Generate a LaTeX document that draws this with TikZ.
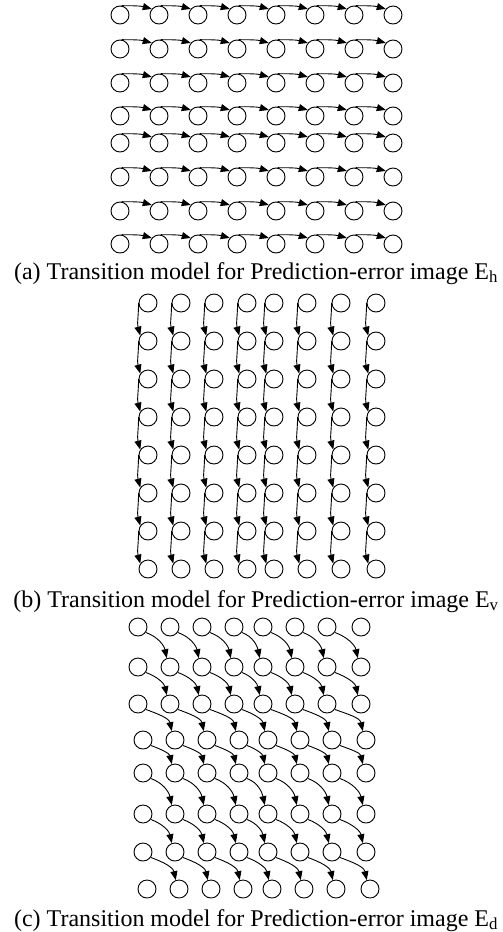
\documentclass[tikz,border=0pt]{standalone}
\usepackage{fontspec}
\setmainfont{Liberation Serif}
\usetikzlibrary{arrows.meta}
\begin{document}
\begin{tikzpicture}[x=1pt,y=1pt,
  st/.style={circle,draw,line width=0.9pt,minimum size=18pt,inner sep=0pt},
  arr/.style={line width=0.9pt,-{Triangle[length=9pt,width=7pt]}},
  captext/.style={anchor=base,inner sep=0pt,font=\fontsize{24}{28}\selectfont}]
\useasboundingbox (0,0) rectangle (503,-932);
% ---------- panel a ----------
\foreach \r/\y in {0/15,1/49,2/83,3/116,4/143,5/177,6/211,7/244}{
  \foreach \c in {0,...,7}{
    \node[st] (a-\r-\c) at ({120+39*\c},-\y) {};
  }
}
\foreach \r in {0,...,7}{
  \foreach \c [evaluate=\c as \n using int(\c+1)] in {0,...,6}{
    \draw[arr] (a-\r-\c.80) to[out=0,in=165] (a-\r-\n.140);
  }
}
\node[captext] (capa) at (256,-279) {(a) Transition model for Prediction-error image E\textsubscript{h}};
% ---------- panel b ----------
\foreach \c/\x in {0/148,1/181,2/214,3/247,4/274,5/307,6/341,7/376}{
  \foreach \r in {0,...,7}{
    \node[st] (b-\r-\c) at (\x,{-(303+38*\r)}) {};
  }
}
\foreach \c in {0,...,7}{
  \foreach \r [evaluate=\r as \n using int(\r+1)] in {0,...,6}{
    \draw[arr] (b-\r-\c.west) to[out=-90,in=105] (b-\n-\c.145);
  }
}
\node[captext] (capb) at (256,-607) {(b) Transition model for Prediction-error image E\textsubscript{v}};
% ---------- panel c ----------
\foreach \r/\y/\s in {0/627/0,1/667/0,2/704/0,3/740/5,4/773/5,5/814/5,6/852/5,7/889/9}{
  \foreach \c/\x in {0/138,1/170,2/202,3/234,4/263,5/295,6/327,7/361}{
    \node[st] (c-\r-\c) at ({\x+\s},-\y) {};
  }
}
\foreach \r [evaluate=\r as \n using int(\r+1)] in {0,...,6}{
  \foreach \c [evaluate=\c as \m using int(\c+1)] in {0,...,6}{
    \draw[arr] (c-\r-\c.-35) to[out=-20,in=102] (c-\n-\m.110);
  }
}
\node[captext] (capc) at (256,-926) {(c) Transition model for Prediction-error image E\textsubscript{d}};
\end{tikzpicture}
\end{document}
